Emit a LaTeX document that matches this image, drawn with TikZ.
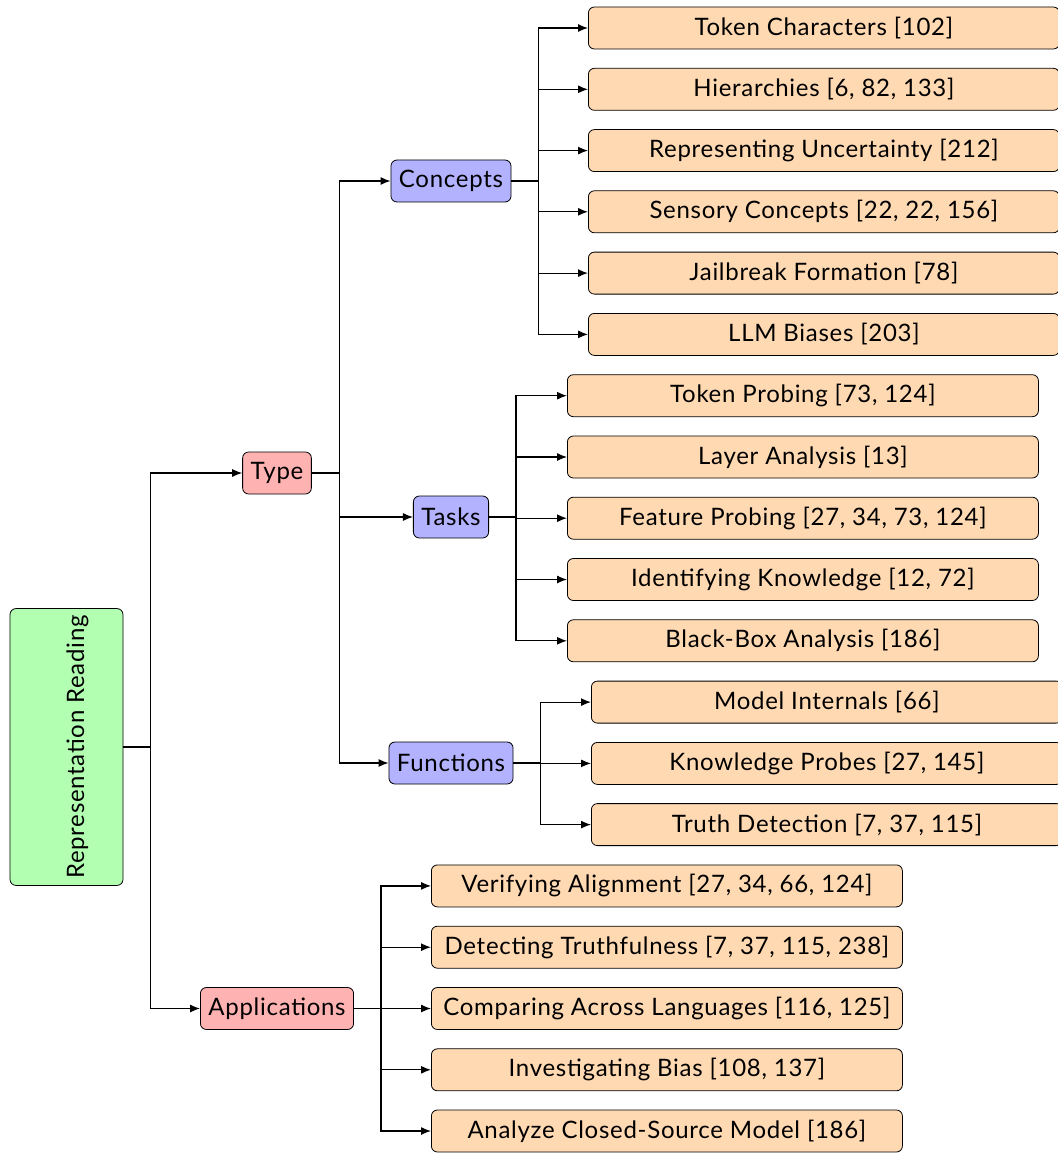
\documentclass[tikz,border=0pt]{standalone}
\usepackage{fontspec}
\setmainfont[LetterSpace=3]{Lato}
\usetikzlibrary{arrows.meta, positioning}

\begin{document}
\begin{tikzpicture}[
    x=0.5pt, y=-0.5pt,
    font=\fontsize{12}{14}\selectfont,
    base/.style={rectangle, draw, rounded corners=3pt, minimum height=21pt, inner xsep=4pt},
    rootbox/.style={base, fill=green!30, minimum width=56.5pt, minimum height=137pt},
    levelone/.style={base, fill=red!30},
    leveltwo/.style={base, fill=blue!30},
    leaf/.style={base, fill=orange!30, minimum width=235.5pt, anchor=west},
    arrow/.style={-{Latex[length=5pt,width=4pt]}, semithick}
]
\useasboundingbox (0,0) rectangle (1058,1155);

% root and first level
\node[rootbox] (reading) at (66.5,747) {\hspace*{11pt}\rotatebox{90}{Representation Reading}};
\node[levelone] (type) at (277,473) {Type};
\node[levelone] (apps) at (277,1008.5) {Applications};

% second level
\node[leveltwo] (concepts) at (451,181) {Concepts};
\node[leveltwo] (tasks) at (451,517) {Tasks};
\node[leveltwo] (functions) at (451,763) {Functions};

% leaves
\node[leaf] (tokchar) at (588,28) {Token Characters [102]};
\node[leaf] (hier) at (588,89.3) {Hierarchies [6, 82, 133]};
\node[leaf] (uncert) at (588,150.6) {Representing Uncertainty [212]};
\node[leaf] (sensory) at (588,211.8) {Sensory Concepts [22, 22, 156]};
\node[leaf] (jailbreak) at (588,273.1) {Jailbreak Formation [78]};
\node[leaf] (biases) at (588,334.4) {LLM Biases [203]};

\node[leaf] (tokprobe) at (567,395.7) {Token Probing [73, 124]};
\node[leaf] (layer) at (567,457) {Layer Analysis [13]};
\node[leaf] (featprobe) at (567,518.2) {Feature Probing [27, 34, 73, 124]};
\node[leaf] (knowledge) at (567,579.5) {Identifying Knowledge [12, 72]};
\node[leaf] (blackbox) at (567,640.8) {Black-Box Analysis [186]};

\node[leaf] (internals) at (591,702.1) {Model Internals [66]};
\node[leaf] (kprobes) at (591,763.4) {Knowledge Probes [27, 145]};
\node[leaf] (truth) at (591,824.6) {Truth Detection [7, 37, 115]};

\node[leaf] (align) at (431,885.9) {Verifying Alignment [27, 34, 66, 124]};
\node[leaf] (truthful) at (431,947.2) {Detecting Truthfulness [7, 37, 115, 238]};
\node[leaf] (lang) at (431,1008.5) {Comparing Across Languages [116, 125]};
\node[leaf] (bias) at (431,1069.8) {Investigating Bias [108, 137]};
\node[leaf] (closed) at (431,1131) {Analyze Closed-Source Model [186]};

% connectors
\draw[arrow] (reading.east) -- ++(27,0) |- (type.west);
\draw[arrow] (reading.east) -- ++(27,0) |- (apps.west);

\draw[arrow] (type.east) -- ++(28,0) |- (concepts.west);
\draw[arrow] (type.east) -- ++(28,0) |- (tasks.west);
\draw[arrow] (type.east) -- ++(28,0) |- (functions.west);

\draw[arrow] (concepts.east) -- ++(27,0) |- (tokchar.west);
\draw[arrow] (concepts.east) -- ++(27,0) |- (hier.west);
\draw[arrow] (concepts.east) -- ++(27,0) |- (uncert.west);
\draw[arrow] (concepts.east) -- ++(27,0) |- (sensory.west);
\draw[arrow] (concepts.east) -- ++(27,0) |- (jailbreak.west);
\draw[arrow] (concepts.east) -- ++(27,0) |- (biases.west);

\draw[arrow] (tasks.east) -- ++(27,0) |- (tokprobe.west);
\draw[arrow] (tasks.east) -- ++(27,0) |- (layer.west);
\draw[arrow] (tasks.east) -- ++(27,0) |- (featprobe.west);
\draw[arrow] (tasks.east) -- ++(27,0) |- (knowledge.west);
\draw[arrow] (tasks.east) -- ++(27,0) |- (blackbox.west);

\draw[arrow] (functions.east) -- ++(27,0) |- (internals.west);
\draw[arrow] (functions.east) -- ++(27,0) |- (kprobes.west);
\draw[arrow] (functions.east) -- ++(27,0) |- (truth.west);

\draw[arrow] (apps.east) -- ++(27,0) |- (align.west);
\draw[arrow] (apps.east) -- ++(27,0) |- (truthful.west);
\draw[arrow] (apps.east) -- ++(27,0) |- (lang.west);
\draw[arrow] (apps.east) -- ++(27,0) |- (bias.west);
\draw[arrow] (apps.east) -- ++(27,0) |- (closed.west);

\end{tikzpicture}
\end{document}
